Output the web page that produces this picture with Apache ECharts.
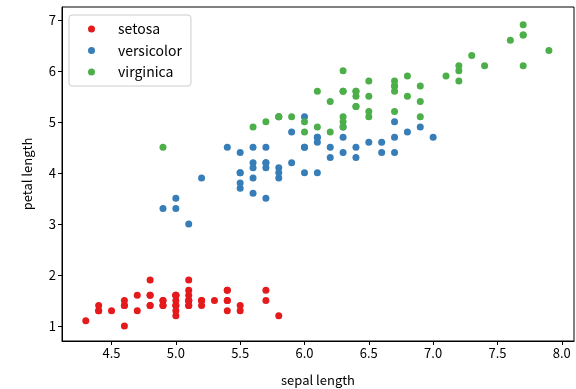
<!DOCTYPE html>
<html>
<head>
<meta charset="utf-8">
<script src="https://cdn.jsdelivr.net/npm/echarts@6/dist/echarts.min.js"></script>
<style>
  html, body { margin: 0; padding: 0; background: #fff; }
  #chart { width: 576px; height: 389px; }
</style>
</head>
<body>
<div id="chart"></div>
<script>
// iris: [sepal length, petal length]
var setosa = [
  [5.1,1.4],[4.9,1.4],[4.7,1.3],[4.6,1.5],[5.0,1.4],[5.4,1.7],[4.6,1.4],[5.0,1.5],[4.4,1.4],[4.9,1.5],
  [5.4,1.5],[4.8,1.6],[4.8,1.4],[4.3,1.1],[5.8,1.2],[5.7,1.5],[5.4,1.3],[5.1,1.4],[5.7,1.7],[5.1,1.5],
  [5.4,1.7],[5.1,1.5],[4.6,1.0],[5.1,1.7],[4.8,1.9],[5.0,1.6],[5.0,1.6],[5.2,1.5],[5.2,1.4],[4.7,1.6],
  [4.8,1.6],[5.4,1.5],[5.2,1.5],[5.5,1.4],[4.9,1.5],[5.0,1.2],[5.5,1.3],[4.9,1.4],[4.4,1.3],[5.1,1.5],
  [5.0,1.3],[4.5,1.3],[4.4,1.3],[5.0,1.6],[5.1,1.9],[4.8,1.4],[5.1,1.6],[4.6,1.4],[5.3,1.5],[5.0,1.4]
];
var versicolor = [
  [7.0,4.7],[6.4,4.5],[6.9,4.9],[5.5,4.0],[6.5,4.6],[5.7,4.5],[6.3,4.7],[4.9,3.3],[6.6,4.6],[5.2,3.9],
  [5.0,3.5],[5.9,4.2],[6.0,4.0],[6.1,4.7],[5.6,3.6],[6.7,4.4],[5.6,4.5],[5.8,4.1],[6.2,4.5],[5.6,3.9],
  [5.9,4.8],[6.1,4.0],[6.3,4.9],[6.1,4.7],[6.4,4.3],[6.6,4.4],[6.8,4.8],[6.7,5.0],[6.0,4.5],[5.7,3.5],
  [5.5,3.8],[5.5,3.7],[5.8,3.9],[6.0,5.1],[5.4,4.5],[6.0,4.5],[6.7,4.7],[6.3,4.4],[5.6,4.1],[5.5,4.0],
  [5.5,4.4],[6.1,4.6],[5.8,4.0],[5.0,3.3],[5.6,4.2],[5.7,4.2],[5.7,4.2],[6.2,4.3],[5.1,3.0],[5.7,4.1]
];
var virginica = [
  [6.3,6.0],[5.8,5.1],[7.1,5.9],[6.3,5.6],[6.5,5.8],[7.6,6.6],[4.9,4.5],[7.3,6.3],[6.7,5.8],[7.2,6.1],
  [6.5,5.1],[6.4,5.3],[6.8,5.5],[5.7,5.0],[5.8,5.1],[6.4,5.3],[6.5,5.5],[7.7,6.7],[7.7,6.9],[6.0,5.0],
  [6.9,5.7],[5.6,4.9],[7.7,6.7],[6.3,4.9],[6.7,5.7],[7.2,6.0],[6.2,4.8],[6.1,4.9],[6.4,5.6],[7.2,5.8],
  [7.4,6.1],[7.9,6.4],[6.4,5.6],[6.3,5.1],[6.1,5.6],[7.7,6.1],[6.3,5.6],[6.4,5.5],[6.0,4.8],[6.9,5.4],
  [6.7,5.6],[6.9,5.1],[5.8,5.1],[6.8,5.9],[6.7,5.7],[6.7,5.2],[6.3,5.0],[6.5,5.2],[6.2,5.4],[5.9,5.1]
];
var xTicks = [4.5, 5.0, 5.5, 6.0, 6.5, 7.0, 7.5, 8.0];
var yTicks = [1, 2, 3, 4, 5, 6, 7];

var font = '"Noto Sans CJK JP", "DejaVu Sans", sans-serif';
var chart = echarts.init(document.getElementById('chart'), null, { renderer: 'canvas' });

function axisCommon(ticks, fmt) {
  return {
    axisLine: { show: true, onZero: false, lineStyle: { color: '#000', width: 1 } },
    axisTick: { show: true, length: 4, lineStyle: { color: '#000' }, customValues: ticks },
    axisLabel: { color: '#000', fontSize: 13, fontFamily: font, margin: 6, customValues: ticks, formatter: fmt },
    splitLine: { show: false },
    nameTextStyle: { color: '#000', fontSize: 13, fontFamily: font }
  };
}

var xAxis = axisCommon(xTicks, function (v) { return v.toFixed(1); });
xAxis.type = 'value';
xAxis.min = 4.115;
xAxis.max = 8.095;
xAxis.name = 'sepal length';
xAxis.nameLocation = 'middle';
xAxis.nameGap = 33;

var yAxis = axisCommon(yTicks, function (v) { return String(v); });
yAxis.type = 'value';
yAxis.min = 0.705;
yAxis.max = 7.25;
yAxis.name = 'petal length';
yAxis.nameLocation = 'middle';
yAxis.nameGap = 28;

var dot = { opacity: 1 };

chart.setOption({
  animation: false,
  color: ['#e41a1c', '#377eb8', '#4daf4a'],
  grid: {
    left: 62, right: 2, top: 7, bottom: 48,
    containLabel: false, outerBoundsMode: 'none',
    show: true, borderColor: '#000', borderWidth: 1, backgroundColor: 'transparent'
  },
  legend: {
    orient: 'vertical',
    left: 69, top: 15,
    padding: [7, 9, 7, 19],
    itemWidth: 7, itemHeight: 7,
    itemGap: 7.5,
    icon: 'circle',
    borderColor: '#ccc', borderWidth: 1, borderRadius: 3,
    backgroundColor: '#fff',
    textStyle: { color: '#000', fontSize: 14, fontFamily: font, lineHeight: 14, padding: [0, 0, 0, 18] },
    data: ['setosa', 'versicolor', 'virginica']
  },
  xAxis: xAxis,
  yAxis: yAxis,
  series: [
    { name: 'setosa', type: 'scatter', data: setosa, symbolSize: 7, itemStyle: dot },
    { name: 'versicolor', type: 'scatter', data: versicolor, symbolSize: 7, itemStyle: dot },
    { name: 'virginica', type: 'scatter', data: virginica, symbolSize: 7, itemStyle: dot }
  ]
});
</script>
</body>
</html>
